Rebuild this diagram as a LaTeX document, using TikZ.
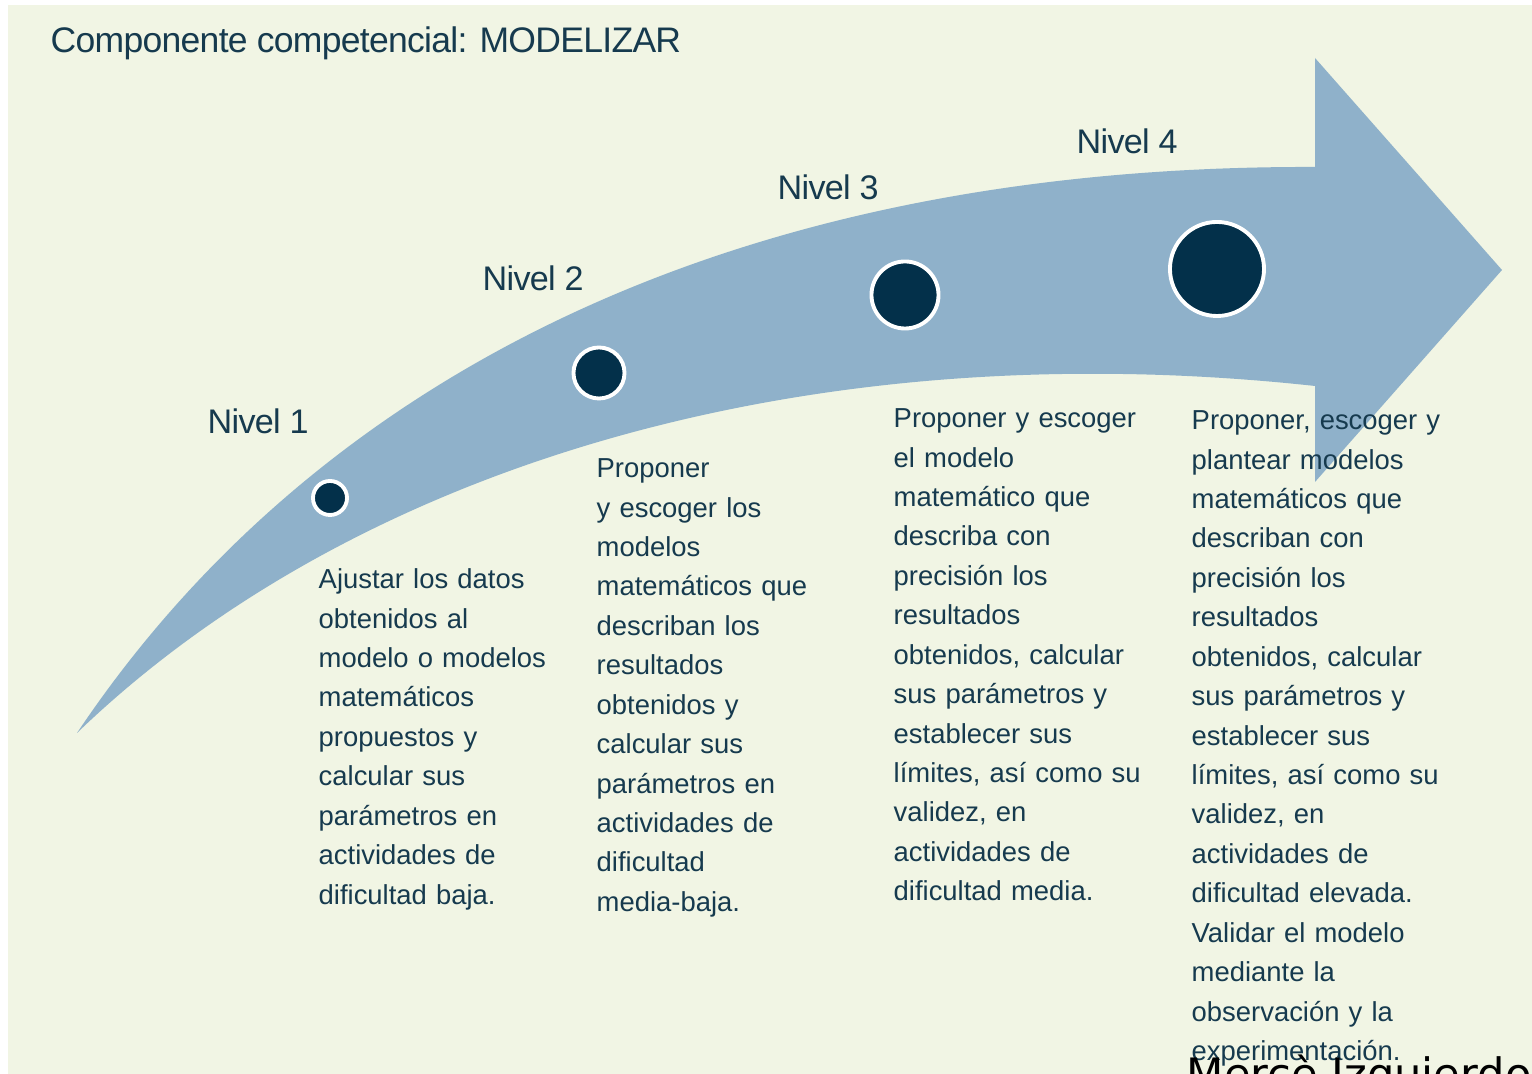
\documentclass[tikz,border=0pt]{standalone}
\usepackage{fontspec}
\setmainfont{Liberation Sans}
\newfontfamily\titlefont[LetterSpace=-2]{Liberation Sans}
\newfontfamily\signfont{DejaVu Sans}
\definecolor{bgc}{HTML}{F1F5E4}
\definecolor{arrowc}{HTML}{8FB1CA}
\definecolor{dotc}{HTML}{03304A}
\definecolor{txtc}{HTML}{163A4E}
\begin{document}
\begin{tikzpicture}[x=0.01cm,y=-0.01cm,
  dotn/.style={circle,fill=dotc,draw=white,line width=1.1pt,inner sep=0pt},
  nivel/.style={anchor=base west,inner sep=0pt,text=txtc,font=\titlefont\fontsize{9.7}{12}\selectfont},
  body/.style={anchor=north west,inner sep=0pt,yshift=8pt,text=txtc,text width=5cm,align=left,
    font=\fontsize{7.8}{11.21}\selectfont}]
\useasboundingbox (0,0) rectangle (1532,1074);
\fill[white] (0,0) rectangle (1532,1074);
\fill[bgc] (8,5) rectangle (1532,1074);
% arrow
\coordinate (tail) at (77,733);
\coordinate (su) at (1315,167);
\coordinate (hu) at (1315,58);
\coordinate (tip) at (1502,270);
\coordinate (hl) at (1315,482);
\coordinate (sl) at (1315,386);
\fill[arrowc] (tail) .. controls (300,400) and (700,165) .. (su)
  -- (hu) -- (tip) -- (hl) -- (sl)
  .. controls (800,330) and (350,470) .. (tail) -- cycle;
% dots
\node[dotn,minimum size=0.34cm] (d1) at (330,498) {};
\node[dotn,minimum size=0.51cm] (d2) at (599,373) {};
\node[dotn,minimum size=0.67cm] (d3) at (905,295) {};
\node[dotn,minimum size=0.94cm] (d4) at (1217,269) {};
% title and levels
\node[anchor=base west,inner sep=0pt,text=txtc,font=\titlefont\fontsize{10.1}{12}\selectfont] (title) at (50,53) {Componente competencial: MODELIZAR};
\node[nivel] (n1) at (207,434) {Nivel 1};
\node[nivel] (n2) at (482,291) {Nivel 2};
\node[nivel] (n3) at (777,200) {Nivel 3};
\node[nivel] (n4) at (1076,154) {Nivel 4};
% texts
\node[body] (t1) at (318,588) {\rule{0pt}{8pt}Ajustar los datos\\obtenidos al\\modelo o modelos\\matemáticos\\propuestos y\\calcular sus\\parámetros en\\actividades de\\dificultad baja.};
\node[body] (t2) at (596,477) {\rule{0pt}{8pt}Proponer\\y escoger los\\modelos\\matemáticos que\\describan los\\resultados\\obtenidos y\\calcular sus\\parámetros en\\actividades de\\dificultad\\media-baja.};
\node[body] (t3) at (893,427) {\rule{0pt}{8pt}Proponer y escoger\\el modelo\\matemático que\\describa con\\precisión los\\resultados\\obtenidos, calcular\\sus parámetros y\\establecer sus\\límites, así como su\\validez, en\\actividades de\\dificultad media.};
\node[body] (t4) at (1191,429) {\rule{0pt}{8pt}Proponer, escoger y\\plantear modelos\\matemáticos que\\describan con\\precisión los\\resultados\\obtenidos, calcular\\sus parámetros y\\establecer sus\\límites, así como su\\validez, en\\actividades de\\dificultad elevada.\\Validar el modelo\\mediante la\\observación y la\\experimentación.};
\node[anchor=base west,inner sep=0pt,text=black,font=\signfont\fontsize{12.3}{14}\selectfont] (sign) at (1186,1090) {Mercè Izquierdo};
\end{tikzpicture}
\end{document}
